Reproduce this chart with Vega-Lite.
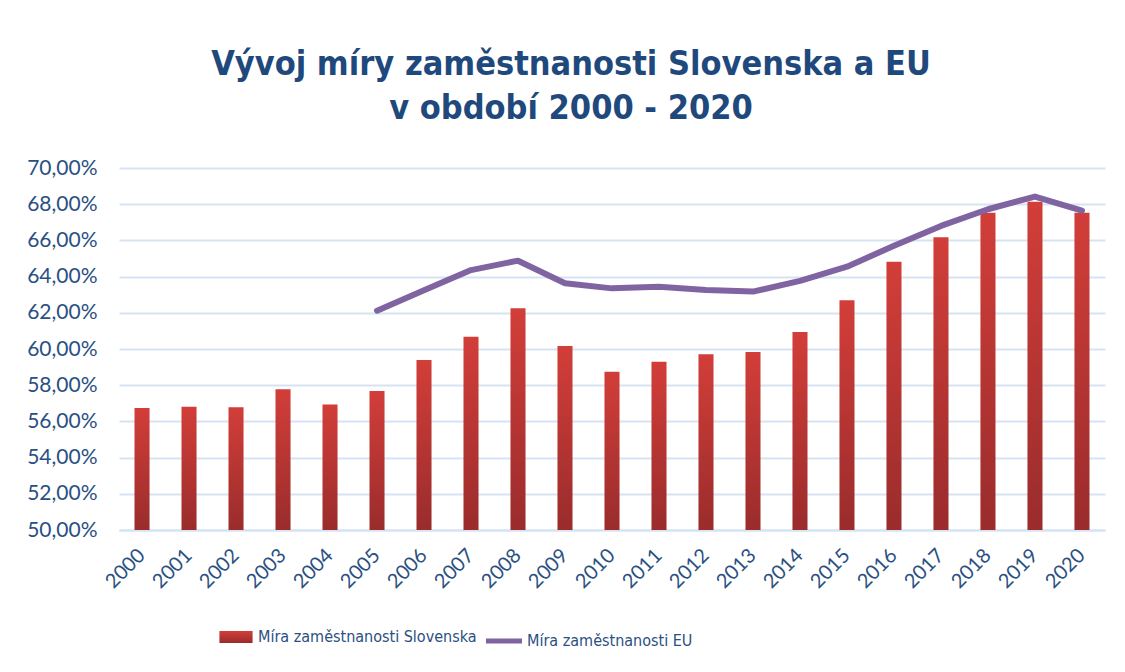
{
  "$schema": "https://vega.github.io/schema/vega-lite/v6.json",
  "autosize": "none",
  "width": 986,
  "height": 362,
  "padding": {"left": 119, "top": 168, "right": 20, "bottom": 142},
  "background": "white",
  "title": {
    "text": ["Vývoj míry zaměstnanosti Slovenska a EU", "v období 2000 - 2020"],
    "anchor": "middle",
    "dx": -41,
    "fontSize": 34,
    "lineHeight": 44,
    "font": "DejaVu Sans Condensed, Lato, sans-serif",
    "fontWeight": "bold",
    "color": "#1F497D",
    "baseline": "alphabetic",
    "offset": 4
  },
  "data": {
    "values": [
      {"year": "2000", "sk": 56.74, "eu": null},
      {"year": "2001", "sk": 56.81, "eu": null},
      {"year": "2002", "sk": 56.78, "eu": null},
      {"year": "2003", "sk": 57.77, "eu": null},
      {"year": "2004", "sk": 56.94, "eu": null},
      {"year": "2005", "sk": 57.68, "eu": 62.12},
      {"year": "2006", "sk": 59.39, "eu": 63.25},
      {"year": "2007", "sk": 60.68, "eu": 64.36},
      {"year": "2008", "sk": 62.25, "eu": 64.88},
      {"year": "2009", "sk": 60.17, "eu": 63.63},
      {"year": "2010", "sk": 58.75, "eu": 63.35},
      {"year": "2011", "sk": 59.3, "eu": 63.44},
      {"year": "2012", "sk": 59.71, "eu": 63.26},
      {"year": "2013", "sk": 59.83, "eu": 63.17},
      {"year": "2014", "sk": 60.94, "eu": 63.76},
      {"year": "2015", "sk": 62.7, "eu": 64.55},
      {"year": "2016", "sk": 64.82, "eu": 65.7},
      {"year": "2017", "sk": 66.17, "eu": 66.8},
      {"year": "2018", "sk": 67.53, "eu": 67.72},
      {"year": "2019", "sk": 68.14, "eu": 68.42},
      {"year": "2020", "sk": 67.53, "eu": 67.64}
    ]
  },
  "encoding": {
    "x": {
      "field": "year",
      "type": "ordinal",
      "title": null,
      "scale": {"paddingInner": 0.68, "paddingOuter": 0.33},
      "axis": {
        "labelAngle": -45,
        "labelAlign": "right",
        "labelBaseline": "middle",
        "labelPadding": 22,
        "labelFontSize": 20,
        "labelFont": "Lato, sans-serif",
        "labelColor": "#2A5082",
        "labelOverlap": false,
        "ticks": false,
        "domainColor": "#D6E3F3",
        "domainWidth": 2,
        "grid": false
      }
    }
  },
  "layer": [
    {
      "mark": {
        "type": "bar",
        "fill": {
          "gradient": "linear",
          "x1": 0, "y1": 0, "x2": 0, "y2": 1,
          "stops": [
            {"offset": 0, "color": "#D23E39"},
            {"offset": 1, "color": "#9A2C2C"}
          ]
        }
      },
      "encoding": {
        "y": {
          "field": "sk",
          "type": "quantitative",
          "title": null,
          "scale": {"domain": [50, 70], "zero": false, "clamp": true},
          "axis": {
            "values": [50, 52, 54, 56, 58, 60, 62, 64, 66, 68, 70],
            "labelExpr": "replace(format(datum.value, '.2f'), '.', ',') + '%'",
            "labelFontSize": 21,
            "labelFont": "Lato, sans-serif",
            "labelColor": "#2A5082",
            "labelPadding": 22,
            "labelOverlap": false,
            "ticks": false,
            "domain": false,
            "gridColor": "#D6E3F3",
            "gridWidth": 2
          }
        },
        "opacity": {
          "datum": "Míra zaměstnanosti Slovenska",
          "type": "nominal",
          "scale": {"domain": ["Míra zaměstnanosti Slovenska"], "range": [1]},
          "legend": {
            "title": null,
            "orient": "none",
            "legendX": 100,
            "legendY": 452,
            "symbolType": "M-1,-0.36H1V0.36H-1Z",
            "symbolSize": 1100,
            "symbolStrokeWidth": 0,
            "labelFontSize": 16,
            "labelLimit": 0,
            "labelFont": "DejaVu Sans Condensed, Lato, sans-serif",
            "labelColor": "#2A5082",
            "labelOffset": 5,
            "encode": {
              "symbols": {
                "update": {
                  "fill": {"value": {
                    "gradient": "linear",
                    "x1": 0, "y1": 0, "x2": 0, "y2": 1,
                    "stops": [
                      {"offset": 0, "color": "#D23E39"},
                      {"offset": 1, "color": "#9A2C2C"}
                    ]
                  }},
                  "opacity": {"value": 1}
                }
              }
            }
          }
        }
      }
    },
    {
      "mark": {"type": "line", "strokeWidth": 6, "strokeCap": "round", "strokeJoin": "round"},
      "encoding": {
        "y": {
          "field": "eu",
          "type": "quantitative",
          "title": null,
          "scale": {"domain": [50, 70], "zero": false, "clamp": true},
          "axis": {
            "values": [50, 52, 54, 56, 58, 60, 62, 64, 66, 68, 70],
            "labelExpr": "replace(format(datum.value, '.2f'), '.', ',') + '%'",
            "labelFontSize": 21,
            "labelFont": "Lato, sans-serif",
            "labelColor": "#2A5082",
            "labelPadding": 22,
            "labelOverlap": false,
            "ticks": false,
            "domain": false,
            "gridColor": "#D6E3F3",
            "gridWidth": 2
          }
        },
        "stroke": {
          "datum": "Míra zaměstnanosti EU",
          "type": "nominal",
          "scale": {"domain": ["Míra zaměstnanosti EU"], "range": ["#8064A2"]},
          "legend": {
            "title": null,
            "orient": "none",
            "legendX": 364,
            "legendY": 452,
            "symbolType": "stroke",
            "symbolSize": 1300,
            "symbolStrokeWidth": 5,
            "labelFontSize": 16,
            "labelLimit": 0,
            "labelFont": "DejaVu Sans Condensed, Lato, sans-serif",
            "labelColor": "#2A5082",
            "labelOffset": 2
          }
        }
      }
    }
  ],
  "config": {
    "view": {"stroke": null}
  }
}
